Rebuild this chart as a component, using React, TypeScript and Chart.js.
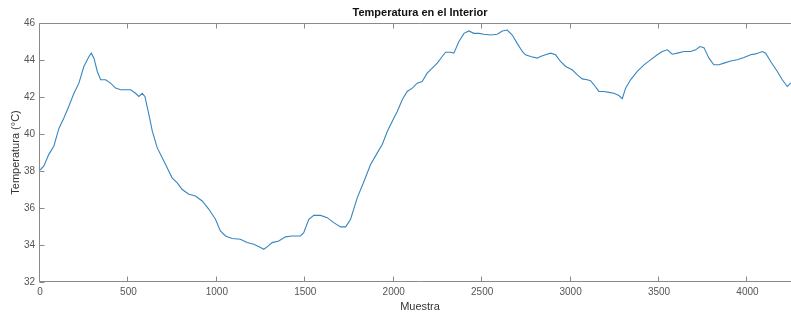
import React, { useEffect, useRef } from "react";
import { Chart, registerables } from "chart.js";

Chart.register(...registerables);

const TITLE = "Temperatura en el Interior";
const X_LABEL = "Muestra";
const Y_LABEL = "Temperatura (°C)";

const samples = [
  0, 21, 50, 78, 107, 135, 163, 192, 220, 248, 277, 290, 305, 324, 343, 371, 399, 427, 456, 484,
  512, 540, 559, 578, 593, 616, 635, 663, 691, 719, 747, 776, 804, 842, 879, 917, 955, 992, 1020, 1049,
  1086, 1133, 1171, 1209, 1247, 1265, 1284, 1313, 1350, 1388, 1425, 1473, 1491, 1520, 1548, 1586, 1624, 1661, 1699, 1728,
  1756, 1794, 1832, 1869, 1907, 1935, 1964, 1982, 2001, 2020, 2048, 2076, 2105, 2133, 2161, 2189, 2218, 2246, 2274, 2293,
  2321, 2340, 2368, 2397, 2425, 2453, 2482, 2510, 2548, 2585, 2614, 2642, 2670, 2698, 2727, 2745, 2774, 2811, 2830, 2858,
  2887, 2915, 2943, 2972, 3009, 3038, 3066, 3094, 3113, 3132, 3160, 3188, 3217, 3245, 3273, 3292, 3311, 3339, 3377, 3415,
  3452, 3490, 3518, 3547, 3575, 3603, 3641, 3679, 3707, 3731, 3754, 3782, 3810, 3839, 3867, 3905, 3942, 3980, 4018, 4046,
  4084, 4103, 4131, 4169, 4197, 4225, 4244, 4260,
];

const temperatures = [
  38.05, 38.26, 38.9, 39.34, 40.3, 40.87, 41.5, 42.2, 42.75, 43.65, 44.19, 44.37, 44.1, 43.38, 42.93, 42.93, 42.75, 42.48, 42.39, 42.39,
  42.39, 42.2, 42.03, 42.2, 42.03, 41.04, 40.15, 39.25, 38.71, 38.17, 37.63, 37.36, 37.0, 36.74, 36.65, 36.38, 35.93, 35.39, 34.76, 34.49,
  34.35, 34.31, 34.13, 34.04, 33.86, 33.77, 33.9, 34.13, 34.22, 34.44, 34.49, 34.49, 34.67, 35.39, 35.6, 35.6, 35.48, 35.21, 34.98, 34.98,
  35.39, 36.56, 37.45, 38.35, 38.98, 39.43, 40.15, 40.5, 40.87, 41.22, 41.85, 42.3, 42.48, 42.75, 42.84, 43.29, 43.56, 43.83, 44.19, 44.42,
  44.42, 44.37, 44.99, 45.44, 45.57, 45.44, 45.44, 45.39, 45.35, 45.39, 45.57, 45.62, 45.35, 44.9, 44.46, 44.28, 44.19, 44.1, 44.19, 44.28,
  44.37, 44.28, 43.92, 43.65, 43.47, 43.2, 42.98, 42.93, 42.88, 42.66, 42.3, 42.3, 42.25, 42.2, 42.08, 41.91, 42.48, 42.93, 43.38, 43.74,
  44.01, 44.28, 44.46, 44.55, 44.31, 44.37, 44.46, 44.46, 44.55, 44.73, 44.67, 44.1, 43.74, 43.74, 43.83, 43.95, 44.01, 44.13, 44.28, 44.33,
  44.46, 44.37, 43.92, 43.38, 42.93, 42.57, 42.75, 42.8,
];

const xTicks = [0, 500, 1000, 1500, 2000, 2500, 3000, 3500, 4000];
const yTicks = [32, 34, 36, 38, 40, 42, 44, 46];
const X_MIN = 0;
const X_MAX = 4297;
const Y_MIN = 32;
const Y_MAX = 46;

const AXIS_COLOR = "#8a8a8a";
const LABEL_COLOR = "#555555";
const FONT = '"Liberation Sans", Arial, Helvetica, sans-serif';

const matlabAxes = {
  id: "matlabAxes",
  afterDraw(chart: any) {
    const { ctx, chartArea, scales } = chart;
    const { left, right, top, bottom } = chartArea;
    const x = scales.x;
    const y = scales.y;
    ctx.save();
    ctx.strokeStyle = AXIS_COLOR;
    ctx.lineWidth = 1;
    ctx.beginPath();
    const t = Math.round(top) + 0.5;
    const b = Math.round(bottom) - 0.5;
    const l = Math.round(left) - 0.5;
    ctx.moveTo(l, t);
    ctx.lineTo(right, t);
    ctx.moveTo(l, t);
    ctx.lineTo(l, b);
    ctx.lineTo(right, b);
    x.ticks.forEach((tk: any) => {
      const px = Math.round(x.getPixelForValue(tk.value)) - 0.5;
      ctx.moveTo(px, b);
      ctx.lineTo(px, b - 5);
      ctx.moveTo(px, t);
      ctx.lineTo(px, t + 5);
    });
    y.ticks.forEach((tk: any) => {
      const py = Math.round(y.getPixelForValue(tk.value)) + 0.5;
      ctx.moveTo(l, py);
      ctx.lineTo(l + 5, py);
    });
    ctx.stroke();
    ctx.font = "bold 11px " + FONT;
    ctx.fillStyle = "#111111";
    ctx.textAlign = "center";
    ctx.textBaseline = "middle";
    ctx.fillText(TITLE, (left + right) / 2, 13);
    ctx.restore();
  },
};

export default function App() {
  const ref = useRef<HTMLCanvasElement | null>(null);

  useEffect(() => {
    if (!ref.current) return;
    const points = samples.map((s, i) => ({ x: s, y: temperatures[i] }));
    const chart = new Chart(ref.current, {
      type: "line",
      data: {
        datasets: [
          {
            label: "Temperatura",
            data: points,
            borderColor: "#3686c0",
            borderWidth: 1.1,
            pointRadius: 0,
            tension: 0,
            fill: false,
          },
        ],
      },
      options: {
        animation: false,
        responsive: false,
        maintainAspectRatio: false,
        layout: { padding: { top: 23, left: 0, right: 0, bottom: 0 } },
        plugins: {
          legend: { display: false },
          title: { display: false },
          tooltip: { enabled: false },
        },
        scales: {
          x: {
            type: "linear",
            min: X_MIN,
            max: X_MAX,
            afterBuildTicks: (scale: any) => {
              scale.ticks = xTicks.map((v) => ({ value: v }));
            },
            afterFit: (scale: any) => {
              scale.height = 32;
            },
            grid: { display: false, drawTicks: false },
            border: { display: false },
            ticks: {
              padding: 4,
              color: LABEL_COLOR,
              font: { family: FONT, size: 10 },
              maxRotation: 0,
              autoSkip: false,
              callback: (v: any) => String(v),
            },
            title: {
              display: true,
              text: X_LABEL,
              color: "#333333",
              font: { family: FONT, size: 11 },
              padding: { top: 0, bottom: 0 },
            },
          },
          y: {
            type: "linear",
            min: Y_MIN,
            max: Y_MAX,
            afterBuildTicks: (scale: any) => {
              scale.ticks = yTicks.map((v) => ({ value: v }));
            },
            afterFit: (scale: any) => {
              scale.width = 40;
            },
            grid: { display: false, drawTicks: false },
            border: { display: false },
            ticks: {
              padding: 5,
              color: LABEL_COLOR,
              font: { family: FONT, size: 10 },
              autoSkip: false,
              callback: (v: any) => String(v),
            },
            title: {
              display: true,
              text: Y_LABEL,
              color: "#333333",
              font: { family: FONT, size: 11 },
              padding: { top: 9, bottom: 0 },
            },
          },
        },
      },
      plugins: [matlabAxes],
    });
    return () => chart.destroy();
  }, []);

  return (
    <div
      style={{
        position: "fixed",
        left: 0,
        top: 0,
        width: 791,
        height: 314,
        overflow: "hidden",
        background: "#ffffff",
      }}
    >
      <canvas ref={ref} width={800} height={314} style={{ width: 800, height: 314, display: "block" }} />
    </div>
  );
}
